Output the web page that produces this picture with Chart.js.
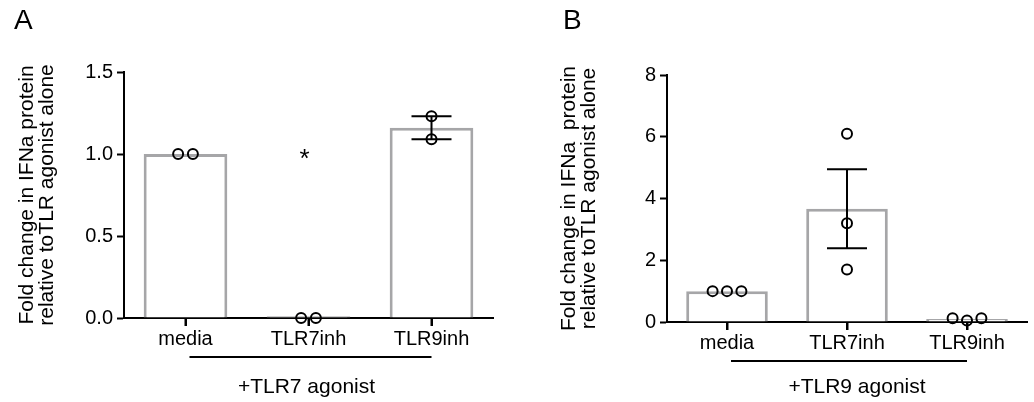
<!DOCTYPE html>
<html>
<head>
<meta charset="utf-8">
<script src="https://cdn.jsdelivr.net/npm/chart.js@4.4.1/dist/chart.umd.min.js"></script>
<style>
  body { margin: 0; background: #fff; }
  #wrap { position: relative; width: 1034px; height: 402px; overflow: hidden; }
  canvas { position: absolute; top: 0; }
</style>
</head>
<body>
<div id="wrap">
  <canvas id="chartA" width="500" height="402" style="left:0"></canvas>
  <canvas id="chartB" width="514" height="402" style="left:520px"></canvas>
</div>
<script>
// data
const categories = ["media", "TLR7inh", "TLR9inh"];

const yTicksA = [0, 0.5, 1.0, 1.5];
const yTickLabelsA = ["0.0", "0.5", "1.0", "1.5"];
const meanA = [1.0, 0.01, 1.16];
const semA = [0, 0, 0.07];
const pointsA = [[1.0, 1.0], [0, 0], [1.23, 1.09]];
const starA = [null, 1.0, null];
const titleA = ["Fold change in IFNa protein", "relative toTLR agonist alone"];
const groupA = "+TLR7 agonist";

const yTicksB = [0, 2, 4, 6, 8];
const yTickLabelsB = ["0", "2", "4", "6", "8"];
const meanB = [1.0, 3.67, 0.1];
const semB = [0, 1.28, 0];
const pointsB = [[1, 1, 1], [6.1, 3.2, 1.7], [0.12, 0.05, 0.12]];
const starB = [null, null, null];
const titleB = ["Fold change in IFNa  protein", "relative toTLR agonist alone"];
const groupB = "+TLR9 agonist";

const FONT = "Liberation Sans";
const GREY = "#a6a6a8";
Chart.defaults.font.family = FONT;

// replicates with (nearly) the same value get spread sideways, like Prism does
function pointData(groups, yMax) {
  const out = [];
  groups.forEach((vals, i) => {
    const spread = Math.max(...vals) - Math.min(...vals) < yMax * 0.03;
    vals.forEach((v, j) => {
      const dx = spread ? (j - (vals.length - 1) / 2) * 0.12 : 0;
      out.push({ x: i + dx, y: v });
    });
  });
  return out;
}

const extras = {
  id: "extras",
  beforeDatasetsDraw(chart) {
    // category tick marks below the x axis
    const ctx = chart.ctx;
    const x = chart.scales.x;
    const b = chart.chartArea.bottom;
    ctx.save();
    ctx.strokeStyle = "#000";
    ctx.lineWidth = 2;
    ctx.beginPath();
    categories.forEach((c, i) => {
      const px = Math.round(x.getPixelForValue(i));
      ctx.moveTo(px, b);
      ctx.lineTo(px, b + 8);
    });
    ctx.stroke();
    ctx.restore();
  },
  afterDatasetsDraw(chart, args, o) {
    const ctx = chart.ctx;
    const x = chart.scales.x, y = chart.scales.y;
    const area = chart.chartArea;
    ctx.save();
    ctx.strokeStyle = "#000";
    ctx.fillStyle = "#000";
    ctx.lineWidth = 2;

    // error bars (mean +/- SEM)
    o.mean.forEach((m, i) => {
      const s = o.sem[i];
      if (!s) return;
      const cx = x.getPixelForValue(i);
      const top = y.getPixelForValue(m + s);
      const bot = y.getPixelForValue(m - s);
      ctx.beginPath();
      ctx.moveTo(cx, top); ctx.lineTo(cx, bot);
      ctx.moveTo(cx - 20, top); ctx.lineTo(cx + 20, top);
      ctx.moveTo(cx - 20, bot); ctx.lineTo(cx + 20, bot);
      ctx.stroke();
    });

    // significance stars
    ctx.font = "26px '" + FONT + "'";
    ctx.textAlign = "center";
    ctx.textBaseline = "alphabetic";
    o.star.forEach((v, i) => {
      if (v === null) return;
      ctx.fillText("*", x.getPixelForValue(i) - 4, y.getPixelForValue(v) + 13);
    });

    // bracket under the categories + group label
    const x0 = x.getPixelForValue(0) + 4;
    const x1 = x.getPixelForValue(categories.length - 1);
    const ly = area.bottom + o.lineGap;
    ctx.beginPath();
    ctx.moveTo(x0, ly); ctx.lineTo(x1, ly);
    ctx.stroke();
    ctx.font = "21px '" + FONT + "'";
    ctx.textBaseline = "middle";
    ctx.fillText(o.group, (x0 + x1) / 2 + o.groupShift, area.bottom + o.textGap);

    // panel letter
    ctx.font = "28px '" + FONT + "'";
    ctx.textAlign = "left";
    ctx.textBaseline = "alphabetic";
    ctx.fillText(o.panel, o.panelX, 29);
    ctx.restore();
  }
};

function makeChart(id, cfg) {
  const yMax = cfg.yTicks[cfg.yTicks.length - 1];
  return new Chart(document.getElementById(id), {
    type: "bar",
    data: {
      labels: categories,
      datasets: [
        {
          type: "scatter",
          data: pointData(cfg.points, yMax),
          xAxisID: "xp",
          yAxisID: "y",
          order: 1,
          showLine: false,
          clip: false,
          pointRadius: 5,
          pointBorderWidth: 2,
          pointBorderColor: "#000",
          pointBackgroundColor: "rgba(0,0,0,0)",
        },
        {
          type: "bar",
          data: cfg.mean,
          xAxisID: "x",
          yAxisID: "y",
          order: 2,
          grouped: false,
          backgroundColor: "#fff",
          borderColor: GREY,
          borderWidth: 3,
          borderSkipped: "start",
          barPercentage: 0.68,
          categoryPercentage: 1,
        },
      ],
    },
    options: {
      responsive: false,
      animation: false,
      devicePixelRatio: 1,
      layout: { padding: cfg.padding },
      plugins: {
        legend: { display: false },
        tooltip: { enabled: false },
        extras: {
          mean: cfg.mean, sem: cfg.sem, star: cfg.star, group: cfg.group,
          panel: cfg.panel, panelX: cfg.panelX,
          lineGap: cfg.lineGap, textGap: cfg.textGap, groupShift: cfg.groupShift,
        },
      },
      scales: {
        x: {
          type: "category",
          offset: true,
          grid: { offset: false, drawOnChartArea: false, tickLength: 8, tickWidth: 2, tickColor: "#000" },
          border: { color: "#000", width: 2 },
          ticks: { color: "#000", font: { size: 20 }, padding: 1, maxRotation: 0 },
          afterFit(s) { s.height = 30; },
        },
        xp: {
          type: "linear", display: false, offset: false,
          min: -0.5, max: categories.length - 0.5,
          grid: { offset: false },
        },
        y: {
          min: cfg.yTicks[0],
          max: yMax,
          ticks: {
            stepSize: cfg.yTicks[1] - cfg.yTicks[0],
            color: "#000",
            font: { size: 20 },
            padding: 4,
            callback: (v, i) => cfg.yTickLabels[i],
          },
          grid: { drawOnChartArea: false, tickLength: 7, tickWidth: 2, tickColor: "#000" },
          border: { color: "#000", width: 2 },
          title: {
            display: true,
            text: cfg.title,
            color: "#000",
            font: { size: 21, lineHeight: 0.95 },
            padding: { top: cfg.titlePad, bottom: 0 },
          },
          afterFit(s) { s.width = cfg.yWidth; },
        },
      },
    },
    plugins: [extras],
  });
}

makeChart("chartA", {
  yTicks: yTicksA, yTickLabels: yTickLabelsA, mean: meanA, sem: semA, points: pointsA,
  star: starA, title: titleA, group: groupA, panel: "A", panelX: 14,
  padding: { left: 0, top: 72, right: 7, bottom: 54 }, yWidth: 124, titlePad: 17,
  lineGap: 39, textGap: 69, groupShift: -4,
});

makeChart("chartB", {
  yTicks: yTicksB, yTickLabels: yTickLabelsB, mean: meanB, sem: semB, points: pointsB,
  star: starB, title: titleB, group: groupB, panel: "B", panelX: 43,
  padding: { left: 0, top: 75, right: 0, bottom: 50 }, yWidth: 147, titlePad: 39,
  lineGap: 39, textGap: 65, groupShift: 8,
});
</script>
</body>
</html>
